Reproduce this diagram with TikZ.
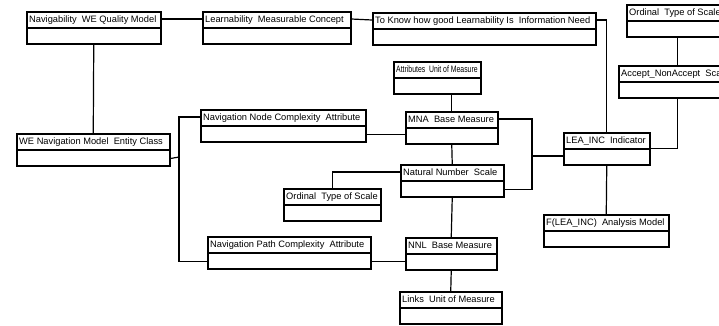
\documentclass[tikz,border=0pt]{standalone}
\usepackage{fontspec}
\setmainfont{Liberation Sans}
\usepackage{graphicx}
\usepackage{tikz}
\usetikzlibrary{positioning,calc}

\tikzset{
  umlclass/.style 2 args={draw, line width=1.5pt, anchor=north west, inner sep=0pt,
    minimum width=#1, minimum height=32pt,
    path picture={\draw[line width=1.6pt] ([yshift=-16pt]path picture bounding box.north west) -- ([yshift=-16pt]path picture bounding box.north east);},
    label={[classname]north west:#2}},
  classname/.style={anchor=north west, inner xsep=3pt, inner ysep=0pt,
    text height=11pt, text depth=5pt, font=\fontsize{9.3}{10}\selectfont},
  link/.style={line width=1.2pt}
}

\begin{document}
\begin{tikzpicture}[x=1pt,y=-1pt]
		\clip (0,0) rectangle (719,325);
		\fill[white] (0,0) rectangle (719,325);
		% top row
		\node[umlclass={134pt}{Navigability~ WE Quality Model}] (nav) at (26,11) {};
		\node[umlclass={148pt}{Learnability~ Measurable Concept}] (learn) at (202,11) {};
		\node[umlclass={223pt}{To Know how good Learnability Is~ Information Need}] (need) at (372,12) {};
		\node[umlclass={102pt}{Ordinal~ Type of Scale}] (ordtop) at (626,4) {};
		\node[umlclass={118pt}{Accept\_NonAccept~ Scale}] (accept) at (618,65) {};
		% middle
		\node[umlclass={87pt}{\scalebox{0.74}[1]{Attributes~ Unit of Measure}}] (attr) at (393,61) {};
		\node[umlclass={165pt}{Navigation Node Complexity~ Attribute}] (nodecx) at (200,109) {};
		\node[umlclass={92pt}{MNA~ Base Measure}] (mna) at (405,111) {};
		\node[umlclass={153pt}{WE Navigation Model~ Entity Class}] (wenav) at (16,133) {};
		\node[umlclass={86pt}{LEA\_INC~ Indicator}] (lea) at (563,132) {};
		\node[umlclass={103pt}{Natural Number~ Scale}] (natnum) at (400,164) {};
		\node[umlclass={97pt}{Ordinal~ Type of Scale}] (ordmid) at (283,188) {};
		\node[umlclass={125pt}{F(LEA\_INC)~ Analysis Model}] (anal) at (543,214) {};
		% bottom
		\node[umlclass={163pt}{Navigation Path Complexity~ Attribute}] (pathcx) at (207,236) {};
		\node[umlclass={91pt}{NNL~ Base Measure}] (nnl) at (405,237) {};
		\node[umlclass={102pt}{Links~ Unit of Measure}] (links) at (399,291) {};
		\coordinate (split) at (179,157);
		\coordinate (junc) at (532,156);
		% links
		\draw[link] ([yshift=-8pt]nav.north east) -- ([yshift=-8pt]learn.north west);
		\draw[link] ([yshift=-8pt]learn.north east) -- ([yshift=-8pt]need.north west);
		\draw[link] ([yshift=-8pt]need.north east) -| (lea.north);
		\draw[link] (ordtop.south) -- (accept.north);
		\draw[link] (accept.south) |- (lea.east);
		\draw[link] (lea.south) -- (anal.north);
		\draw[link] (nav.south) -- (wenav.north);
		\draw[link] ([yshift=8pt]wenav.south east) -- (split);
		\draw[link] (split) |- ([yshift=-8pt]nodecx.north west);
		\draw[link] (split) |- ([yshift=8pt]pathcx.south west);
		\draw[link] ([yshift=8pt]nodecx.south east) -- ([yshift=8pt]nodecx.south east -| mna.west);
		\draw[link] (mna.north) -- (mna.north |- attr.south);
		\draw[link] (mna.south) -- (natnum.north);
		\draw[link] ([yshift=-8pt]mna.north east) -| (junc);
		\draw[link] ([yshift=8pt]natnum.south east) -| (junc);
		\draw[link] (junc) -- (junc -| lea.west);
		\draw[link] ([yshift=-8pt]natnum.north west) -| (ordmid.north);
		\draw[link] (natnum.south) -- (nnl.north);
		\draw[link] ([yshift=8pt]pathcx.south east) -- ([yshift=8pt]pathcx.south east -| nnl.west);
		\draw[link] (nnl.south) -- (links.north);
\end{tikzpicture}
\end{document}
